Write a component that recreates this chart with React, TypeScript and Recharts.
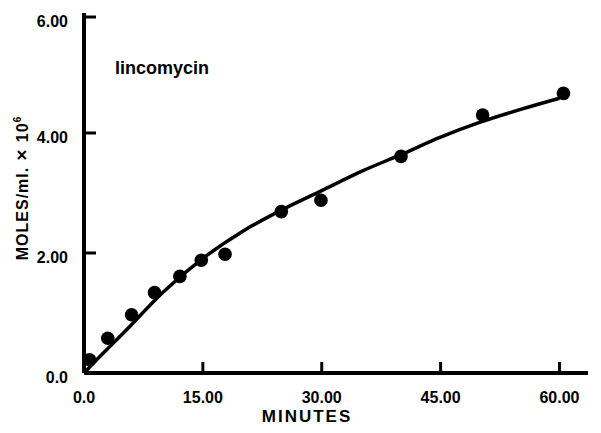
import React from 'react';
import { ComposedChart, Line, Scatter, XAxis, YAxis } from 'recharts';

// Measured concentrations (minutes, moles/ml × 10^6)
const observedMinutes = [0.7, 3.0, 6.0, 8.9, 12.1, 14.8, 17.8, 24.9, 29.9, 40.0, 50.3, 60.5];
const observedMoles = [0.22, 0.58, 0.97, 1.34, 1.61, 1.88, 1.98, 2.69, 2.88, 3.61, 4.3, 4.66];

// Fitted uptake curve
const curveMinutes = [0, 2.5, 5, 10, 15, 20, 25, 30, 35, 40, 45, 50, 55, 60];
const curveMoles = [0, 0.34, 0.67, 1.35, 1.91, 2.36, 2.72, 3.04, 3.36, 3.64, 3.93, 4.18, 4.39, 4.58];

const xTicks = [0, 15, 30, 45, 60];
const yTicks = [0, 2, 4, 6];

const observed = observedMinutes.map((t, i) => ({ t, v: observedMoles[i] }));
const curve = curveMinutes.map((t, i) => ({ t, v: curveMoles[i] }));

const FONT = '"Liberation Sans", Arial, sans-serif';
const INK = '#000';

const fmt = (v: number) => (v === 0 ? '0.0' : v.toFixed(2));

const XTick = (props: any) => {
  const { x, y, payload } = props;
  return (
    <g>
      <line x1={x} y1={y} x2={x} y2={y - 11} stroke={INK} strokeWidth={3} />
      <text x={x} y={y + 30} textAnchor="middle" fontFamily={FONT} fontWeight="bold" fontSize={16} fill={INK}>
        {fmt(payload.value)}
      </text>
    </g>
  );
};

const YTick = (props: any) => {
  const { x, y, payload } = props;
  return (
    <g>
      <line x1={x} y1={y} x2={x + 12} y2={y} stroke={INK} strokeWidth={3} />
      <text x={x - 16} y={y + 10} textAnchor="end" fontFamily={FONT} fontWeight="bold" fontSize={16} fill={INK}>
        {fmt(payload.value)}
      </text>
    </g>
  );
};

const Dot = (props: any) => <circle cx={props.cx} cy={props.cy} r={6.8} fill={INK} />;

export default function App() {
  return (
    <div style={{ width: 593, height: 425, background: '#fff' }}>
      <ComposedChart width={593} height={425} margin={{ top: 5, right: 13, bottom: 0, left: 0 }}>
        <XAxis
          type="number"
          dataKey="t"
          domain={[0, 63.6]}
          ticks={xTicks}
          allowDataOverflow
          height={60}
          tickSize={0}
          tickMargin={0}
          tick={<XTick />}
          axisLine={{ stroke: INK, strokeWidth: 4 }}
        />
        <YAxis
          type="number"
          dataKey="v"
          domain={[0, 6]}
          ticks={yTicks}
          width={76}
          tickSize={0}
          tickMargin={0}
          tick={<YTick />}
          axisLine={{ stroke: INK, strokeWidth: 4 }}
        />
        <Line
          data={curve}
          dataKey="v"
          type="monotone"
          stroke={INK}
          strokeWidth={3.5}
          dot={false}
          activeDot={false}
          isAnimationActive={false}
        />
        <Scatter data={observed} dataKey="v" shape={<Dot />} isAnimationActive={false} />
        <text x={107} y={66} fontFamily={FONT} fontWeight="bold" fontSize={18} fill={INK}>
          lincomycin
        </text>
        <text x={299} y={414} textAnchor="middle" fontFamily={FONT} fontWeight="bold" fontSize={17} letterSpacing={2} fill={INK}>
          MINUTES
        </text>
        <text
          x={0}
          y={0}
          transform="translate(20, 180) rotate(-90)"
          textAnchor="middle"
          fontFamily={FONT}
          fontWeight="bold"
          fontSize={16}
          letterSpacing={1}
          fill={INK}
        >
          MOLES/ml.
          <tspan fontSize={19}> × </tspan>
          10
          <tspan fontSize={10} dy={-7}>6</tspan>
        </text>
      </ComposedChart>
    </div>
  );
}
